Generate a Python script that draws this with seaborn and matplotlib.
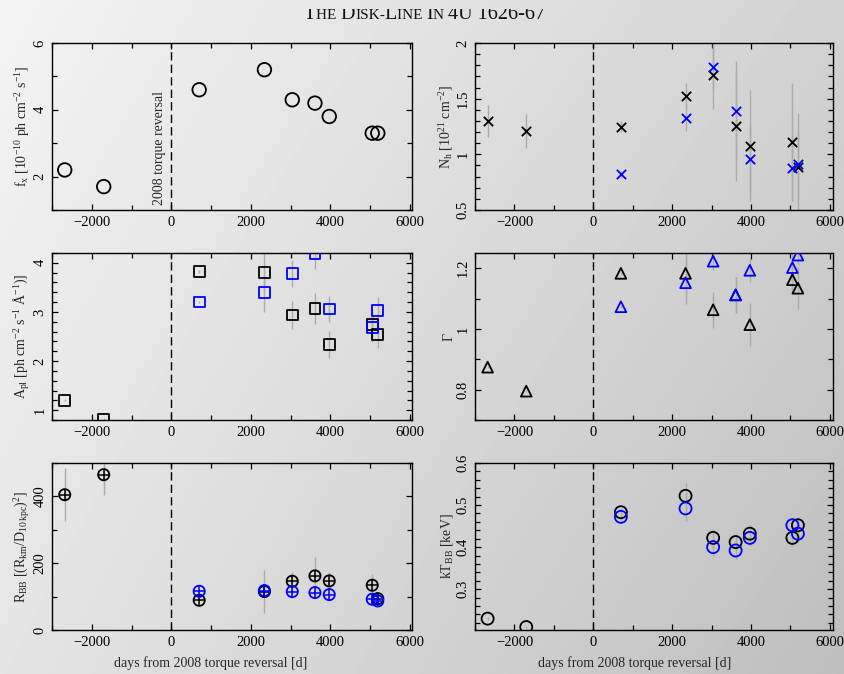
import numpy as np
import pandas as pd
import matplotlib
matplotlib.use("Agg")
import matplotlib.pyplot as plt
import seaborn as sns
from matplotlib.ticker import MultipleLocator, FuncFormatter
from matplotlib.offsetbox import TextArea, HPacker, AnchoredOffsetbox
from matplotlib.transforms import Bbox, TransformedBbox

# ---------------- data ----------------
days = [-2680, -1700, 700, 2340, 3040, 3610, 3970, 5050, 5190]
days_b = [700, 2340, 3040, 3610, 3970, 5050, 5190]

fx = [2.2, 1.7, 4.6, 5.2, 4.3, 4.2, 3.8, 3.3, 3.3]

nh_k = [1.30, 1.21, 1.25, 1.525, 1.71, 1.256, 1.077, 1.107, 0.89]
nh_k_err = [0.14, 0.15, 0.05, 0.12, 0.30, 0.50, 0.50, 0.53, 0.48]
nh_b = [0.82, 1.33, 1.785, 1.39, 0.957, 0.88, 0.91]
nh_b_err = [0.03, 0.12, 0.20, 0.45, 0.30, 0.30, 0.30]

apl_k = [1.20, 0.82, 3.82, 3.80, 2.94, 3.07, 2.34, 2.74, 2.54]
apl_k_err = [0.02, 0.02, 0.03, 0.40, 0.28, 0.32, 0.27, 0.30, 0.28]
apl_b = [3.20, 3.40, 3.78, 4.18, 3.06, 2.69, 3.03]
apl_b_err = [0.02, 0.40, 0.27, 0.30, 0.27, 0.30, 0.27]

gam_k = [0.874, 0.795, 1.183, 1.183, 1.063, 1.112, 1.014, 1.162, 1.134]
gam_k_err = [0.004, 0.004, 0.005, 0.07, 0.06, 0.06, 0.07, 0.04, 0.07]
gam_b = [1.073, 1.152, 1.223, 1.112, 1.193, 1.202, 1.243]
gam_b_err = [0.005, 0.07, 0.03, 0.06, 0.04, 0.05, 0.03]

rbb_k = [405, 465, 89, 115, 146, 162, 147, 134, 94]
rbb_k_err = [80, 60, 5, 65, 28, 56, 28, 34, 10]
rbb_b = [116, 118, 115, 112, 106, 92, 87]
rbb_b_err = [5, 10, 10, 10, 10, 10, 10]

kt_k = [0.230, 0.210, 0.483, 0.522, 0.422, 0.412, 0.432, 0.422, 0.452]
kt_k_err = [0.003, 0.003, 0.01, 0.03, 0.02, 0.02, 0.02, 0.02, 0.02]
kt_b = [0.472, 0.492, 0.400, 0.392, 0.422, 0.452, 0.432]
kt_b_err = [0.01, 0.03, 0.02, 0.02, 0.02, 0.02, 0.02]

xlabel = "days from 2008 torque reversal [d]"
reversal_label = "2008 torque reversal"

# ---------------- style ----------------
sns.set_style("ticks")
plt.rcParams["font.family"] = ["Liberation Serif", "DejaVu Serif"]
plt.rcParams["mathtext.fontset"] = "custom"
plt.rcParams["mathtext.rm"] = "Liberation Serif"
plt.rcParams["mathtext.it"] = "Liberation Serif:italic"
plt.rcParams["mathtext.default"] = "regular"
plt.rcParams["axes.linewidth"] = 1.0

BLACK = "#000000"
BLUE = "#0000ff"
ECOL = "#ababab"

fig = plt.figure(figsize=(8.44, 6.74), dpi=100)

# gradient background
bg = fig.add_axes([0, 0, 1, 1], zorder=-10)
gx, gy = np.meshgrid(np.linspace(0, 1, 200), np.linspace(0, 1, 200))
grad = 0.955 - 0.13 * gx - 0.06 * gy - 0.02 * gx * gy
bg.imshow(grad, cmap="gray", vmin=0, vmax=1, aspect="auto", extent=[0, 1, 1, 0],
          interpolation="bilinear")
bg.set_xlim(0, 1); bg.set_ylim(1, 0)
bg.axis("off")

W, H = 844, 674
def axpos(l, t, r, b):
    return [l / W, 1 - b / H, (r - l) / W, (b - t) / H]

cols = [(52, 412, 6050), (475, 833, 6080)]
rows = [(43, 210), (253, 420), (463, 630)]
axes = {}
for i, (t, b) in enumerate(rows):
    for j, (l, r, xr) in enumerate(cols):
        a = fig.add_axes(axpos(l, t, r, b))
        a._xright = xr
        axes[(i, j)] = a

gfmt = FuncFormatter(lambda v, p: f"{v:g}")

def style(ax, ylim, ymaj, ymin, ylabel):
    ax.set_facecolor("none")
    ax.set_xlim(-3000, ax._xright)
    ax.set_ylim(*ylim)
    ax.axvline(0, color="k", ls=(0, (6, 3)), lw=1.0, zorder=0)
    ax.xaxis.set_major_locator(MultipleLocator(2000))
    ax.xaxis.set_minor_locator(MultipleLocator(1000))
    ax.yaxis.set_major_locator(MultipleLocator(ymaj))
    ax.yaxis.set_minor_locator(MultipleLocator(ymin))
    ax.yaxis.set_major_formatter(gfmt)
    ax.tick_params(which="both", direction="in", top=True, right=True,
                   labelsize=10.5, width=0.9, colors="k")
    ax.tick_params(which="major", length=4.5, pad=4)
    ax.tick_params(which="minor", length=3.5)
    ax.tick_params(axis="y", labelrotation=90)
    for lab in ax.get_yticklabels():
        lab.set_va("center")
    ax.set_ylabel(ylabel, fontsize=10, labelpad=1)
    ax.set_xlabel("")
    for s in ax.spines.values():
        s.set_color("k"); s.set_linewidth(1.0)

def ebar(ax, x, y, e):
    ax.errorbar(x, y, yerr=e, fmt="none", ecolor=ECOL, elinewidth=1.0,
                capsize=0, zorder=1)

# --- f_x
ax = axes[(0, 0)]
sns.scatterplot(x=days, y=fx, ax=ax, marker="o", s=95, facecolor="none",
                edgecolor=BLACK, linewidth=1.3, zorder=3)
style(ax, (1, 6), 2, 1, r"f$_{x}$ [10$^{-10}$ ph cm$^{-2}$ s$^{-1}$]")
ax.text(-290, 1.15, reversal_label, rotation=90, ha="center", va="bottom",
        fontsize=10)

# --- N_h
ax = axes[(0, 1)]
ebar(ax, days, nh_k, nh_k_err)
ebar(ax, days_b, nh_b, nh_b_err)
sns.scatterplot(x=days, y=nh_k, ax=ax, marker="x", s=45, color=BLACK,
                linewidth=1.3, zorder=3)
sns.scatterplot(x=days_b, y=nh_b, ax=ax, marker="x", s=45, color=BLUE,
                linewidth=1.3, zorder=4)
style(ax, (0.5, 2.0), 0.5, 0.1, r"N$_{h}$ [10$^{21}$ cm$^{-2}$]")

# --- A_pl
ax = axes[(1, 0)]
ebar(ax, days, apl_k, apl_k_err)
ebar(ax, days_b, apl_b, apl_b_err)
sns.scatterplot(x=days, y=apl_k, ax=ax, marker="s", s=60, facecolor="none",
                edgecolor=BLACK, linewidth=1.3, zorder=3)
sns.scatterplot(x=days_b, y=apl_b, ax=ax, marker="s", s=60, facecolor="none",
                edgecolor=BLUE, linewidth=1.3, zorder=4)
style(ax, (0.8, 4.2), 1, 0.2, r"A$_{pl}$ [ph cm$^{-2}$ s$^{-1}$ Å$^{-1}$)]")

# --- Gamma
ax = axes[(1, 1)]
ebar(ax, days, gam_k, gam_k_err)
ebar(ax, days_b, gam_b, gam_b_err)
sns.scatterplot(x=days, y=gam_k, ax=ax, marker="^", s=60, facecolor="none",
                edgecolor=BLACK, linewidth=1.3, zorder=3)
sns.scatterplot(x=days_b, y=gam_b, ax=ax, marker="^", s=60, facecolor="none",
                edgecolor=BLUE, linewidth=1.3, zorder=4)
style(ax, (0.7, 1.25), 0.2, 0.1, "Γ")

# --- R_BB
ax = axes[(2, 0)]
ebar(ax, days, rbb_k, rbb_k_err)
ebar(ax, days_b, rbb_b, rbb_b_err)
for yy, xx, c, z in [(rbb_k, days, BLACK, 3), (rbb_b, days_b, BLUE, 4)]:
    sns.scatterplot(x=xx, y=yy, ax=ax, marker="o", s=65, facecolor="none",
                    edgecolor=c, linewidth=1.3, zorder=z)
    sns.scatterplot(x=xx, y=yy, ax=ax, marker="+", s=65, color=c,
                    linewidth=1.1, zorder=z)
style(ax, (0, 500), 200, 100, r"R$_{BB}$ [(R$_{km}$/D$_{10\,kpc}$)$^{2}$]")
ax.set_xlabel(xlabel, fontsize=10)
ax.xaxis.set_label_coords(0.44, -0.155)

# --- kT_BB
ax = axes[(2, 1)]
ebar(ax, days, kt_k, kt_k_err)
ebar(ax, days_b, kt_b, kt_b_err)
sns.scatterplot(x=days, y=kt_k, ax=ax, marker="o", s=75, facecolor="none",
                edgecolor=BLACK, linewidth=1.3, zorder=3)
sns.scatterplot(x=days_b, y=kt_b, ax=ax, marker="o", s=75, facecolor="none",
                edgecolor=BLUE, linewidth=1.3, zorder=4)
style(ax, (0.203, 0.6), 0.1, 0.02, r"kT$_{BB}$ [keV]")
ax.set_xlabel(xlabel, fontsize=10)
ax.xaxis.set_label_coords(0.445, -0.155)

# --- small-caps running title (top slightly clipped as in the scan)
big, small = 14.5, 11
pieces = [("T", big), ("HE ", small), ("D", big), ("ISK-", small), ("L", big),
          ("INE ", small), ("I", big), ("N ", small), ("4U 1626-67", big)]
areas = [TextArea(t, textprops=dict(fontsize=s, color="#111111",
                                    family=["Liberation Serif"]))
         for t, s in pieces]
clipbb = TransformedBbox(Bbox([[0, 0], [1, 1 - 8.5 / H]]), fig.transFigure)
for a in areas:
    a._text.set_clip_box(clipbb)
    a._text.set_clip_on(True)
box = HPacker(children=areas, align="baseline", pad=0, sep=0)
anch = AnchoredOffsetbox(loc="lower center", child=box, frameon=False, pad=0,
                         borderpad=0, bbox_to_anchor=(0.503, 1 - 24 / H),
                         bbox_transform=fig.transFigure)
fig.add_artist(anch)

fig.savefig("out.png", dpi=100)
